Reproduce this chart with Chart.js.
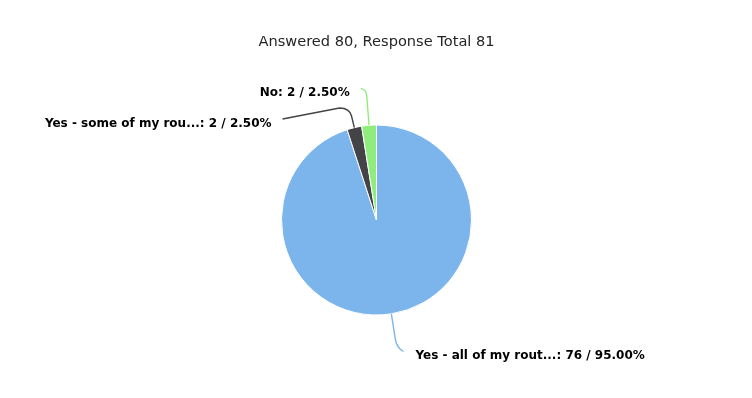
<!DOCTYPE html>
<html>
<head>
<meta charset="utf-8">
<script src="https://cdn.jsdelivr.net/npm/chart.js@4/dist/chart.umd.min.js"></script>
<style>
html,body{margin:0;padding:0;background:#fff;}
#wrap{width:752px;height:398px;}
</style>
</head>
<body>
<div id="wrap"><canvas id="c" width="752" height="398"></canvas></div>
<script>
const titleText = "Answered 80, Response Total 81";
const categories = ["Yes - all of my rout...", "Yes - some of my rou...", "No"];
const counts = [76, 2, 2];
const percents = [95.00, 2.50, 2.50];
const colors = ["#7cb5ec", "#434348", "#90ed7d"];

// connector geometry (layout only), per slice
const connectorStyle = [
  { breakOut: 26, bend: 8, curveEnd: { dx: 8, dy: 12 }, line: { dx: 0, dy: 0 }, textDy: 4 },
  { breakOut: 12, bend: 8, curveEnd: { dx: -12, dy: -8 }, line: { dx: -57, dy: 11 }, textDy: 5 },
  { breakOut: 30, bend: 6, curveEnd: { dx: -6, dy: -7 }, line: { dx: 0, dy: 0 }, textDy: 4 }
];

const labelPlugin = {
  id: 'pieLabels',
  afterDatasetsDraw(chart) {
    const ctx = chart.ctx;
    const meta = chart.getDatasetMeta(0);
    meta.data.forEach((arc, i) => {
      const p = arc.getProps(['x', 'y', 'startAngle', 'endAngle', 'outerRadius'], true);
      const a = (p.startAngle + p.endAngle) / 2;
      const dir = { x: Math.cos(a), y: Math.sin(a) };
      const st = connectorStyle[i];
      const E = { x: p.x + dir.x * p.outerRadius, y: p.y + dir.y * p.outerRadius };
      const B = { x: p.x + dir.x * (p.outerRadius + st.breakOut), y: p.y + dir.y * (p.outerRadius + st.breakOut) };
      const C = { x: B.x + dir.x * st.bend, y: B.y + dir.y * st.bend };
      const M = { x: B.x + st.curveEnd.dx, y: B.y + st.curveEnd.dy };
      const L = { x: M.x + st.line.dx, y: M.y + st.line.dy };
      ctx.save();
      ctx.strokeStyle = colors[i];
      ctx.lineWidth = 1.4;
      ctx.beginPath();
      ctx.moveTo(E.x, E.y);
      ctx.lineTo(B.x, B.y);
      ctx.quadraticCurveTo(C.x, C.y, M.x, M.y);
      ctx.lineTo(L.x, L.y);
      ctx.stroke();
      const left = dir.x < 0;
      const text = categories[i] + ": " + counts[i] + " / " + percents[i].toFixed(2) + "%";
      ctx.font = "bold 12px 'DejaVu Sans'";
      ctx.fillStyle = "#000000";
      ctx.textBaseline = "middle";
      ctx.textAlign = left ? "right" : "left";
      ctx.fillText(text, L.x + (left ? -11 : 12), L.y + st.textDy);
      ctx.restore();
    });
  }
};

new Chart(document.getElementById('c'), {
  type: 'pie',
  data: {
    labels: categories,
    datasets: [{
      data: counts,
      backgroundColor: colors,
      borderColor: '#ffffff',
      borderWidth: 1,
      hoverOffset: 0,
      radius: 95
    }]
  },
  options: {
    responsive: false,
    devicePixelRatio: 1,
    animation: false,
    layout: { padding: { left: 1, right: 0, top: 0, bottom: 83 } },
    plugins: {
      legend: { display: false },
      tooltip: { enabled: false },
      title: {
        display: true,
        text: titleText,
        color: '#262626',
        font: { family: "'DejaVu Sans'", size: 14.6, weight: 'normal', lineHeight: 1.2 },
        padding: { top: 33, bottom: 74.5 }
      }
    }
  },
  plugins: [labelPlugin]
});
</script>
</body>
</html>
